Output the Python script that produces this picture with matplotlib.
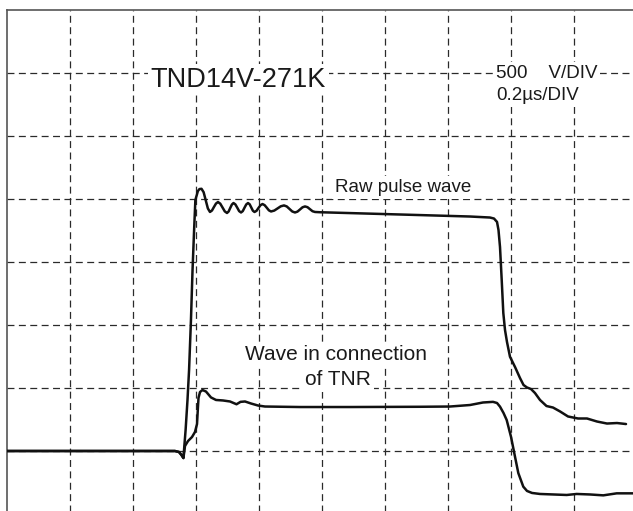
import matplotlib
matplotlib.use("Agg")
import matplotlib.pyplot as plt

plt.rcParams['lines.scale_dashes'] = False
plt.rcParams['font.family'] = ['Liberation Sans', 'DejaVu Sans']

# Time in microseconds (0.2 us/div), voltage in volts (500 V/div)
raw_t = [0.0, 0.533, 0.546, 0.554, 0.560, 0.567, 0.573, 0.578, 0.584, 0.589,
         0.594, 0.598, 0.606, 0.611, 0.6175, 0.6242, 0.6310, 0.6377, 0.6444,
         0.6508, 0.6571, 0.6635, 0.6698, 0.6770, 0.6841, 0.6913, 0.6984,
         0.7036, 0.7087, 0.7139, 0.7190, 0.7250, 0.7310, 0.7369, 0.7429,
         0.7485, 0.7540, 0.7596, 0.7651, 0.7703, 0.7754, 0.7806, 0.7857,
         0.7921, 0.7984, 0.8048, 0.8111, 0.8179, 0.8246, 0.8314, 0.8381,
         0.8484, 0.8588, 0.8691, 0.8794, 0.8881, 0.8969, 0.9056, 0.9143,
         0.9222, 0.9302, 0.9381, 0.9460, 0.9540, 0.9619, 0.9699, 0.9778,
         0.9937, 1.2476, 1.4698, 1.5333, 1.5460, 1.5556, 1.5603, 1.5651,
         1.5705, 1.5756, 1.5810, 1.5873, 1.5968, 1.6127, 1.6286, 1.6397,
         1.6508, 1.6635, 1.6762, 1.6921, 1.7127, 1.7333, 1.7556, 1.7810,
         1.8127, 1.8413, 1.8730, 1.9048, 1.9365, 1.9651]
raw_v = [0, 0, -8, -32, -56, 167, 405, 643, 1040, 1437,
         1754, 1992, 2063, 2079, 2081, 2054, 1989, 1925, 1897,
         1909, 1937, 1964, 1976, 1963, 1933, 1902, 1889,
         1901, 1929, 1956, 1968, 1957, 1931, 1904, 1893,
         1904, 1931, 1957, 1968, 1958, 1933, 1907, 1897,
         1906, 1929, 1951, 1960, 1951, 1931, 1910, 1901,
         1908, 1925, 1942, 1949, 1941, 1921, 1901, 1893,
         1900, 1917, 1934, 1941, 1935, 1919, 1903, 1897,
         1895, 1877, 1861, 1853, 1845, 1818, 1754, 1619,
         1357, 1095, 960, 865, 748, 667, 579, 524,
         504, 492, 460, 405, 357, 345, 314, 274,
         258, 258, 234, 218, 222, 214]

tnr_t = [0.0, 0.533, 0.546, 0.554, 0.560, 0.5651, 0.5746, 0.5873, 0.5968,
         0.6032, 0.6057, 0.6079, 0.6127, 0.6206, 0.6317, 0.6476, 0.6635,
         0.6857, 0.7079, 0.7286, 0.7413, 0.7556, 0.7746, 0.7968, 0.8190,
         0.9302, 1.0889, 1.3111, 1.4063, 1.4698, 1.5111, 1.5429, 1.5556,
         1.5651, 1.5762, 1.5863, 1.6000, 1.6127, 1.6232, 1.6390, 1.6508,
         1.6667, 1.6921, 1.7768, 1.8086, 1.8508, 1.8930, 1.9355, 1.9873]
tnr_v = [0, 0, -8, -32, -56, 40, 79, 111, 151,
         214, 325, 421, 468, 484, 472, 425, 405,
         401, 393, 371, 390, 393, 377, 361, 353,
         349, 349, 351, 353, 365, 385, 390, 381,
         352, 302, 246, 113, -45, -175, -283, -317,
         -333, -341, -349, -341, -345, -352, -336, -336]

x_grid = [0.2, 0.4, 0.6, 0.8, 1.0, 1.2, 1.4, 1.6, 1.8]
y_grid = [0, 500, 1000, 1500, 2000, 2500, 3000]

W, H = 633, 511
fig = plt.figure(figsize=(W / 100, H / 100), dpi=100)
ax = fig.add_axes([7 / W, -3 / H, 630 / W, 504 / H])
ax.set_xlim(0, 2.0)
ax.set_ylim(-500, 3500)

dash = (0, (5.0, 3.2))
for xg in x_grid:
    ax.axvline(xg, color='#2a2a2a', lw=0.9, linestyle=dash, zorder=1)
for yg in y_grid:
    ax.axhline(yg, color='#2a2a2a', lw=0.9, linestyle=dash, zorder=1)

ax.plot(raw_t, raw_v, color='#111111', lw=1.8, solid_joinstyle='round',
        solid_capstyle='round', zorder=3)
ax.plot(tnr_t, tnr_v, color='#111111', lw=1.8, solid_joinstyle='round',
        solid_capstyle='round', zorder=3)

ax.set_xticks([])
ax.set_yticks([])
for s in ['right', 'bottom']:
    ax.spines[s].set_visible(False)
for s in ['left', 'top']:
    ax.spines[s].set_color('#555555')
    ax.spines[s].set_linewidth(1.2)

bb = dict(facecolor='white', edgecolor='none', pad=2)
ax.text(0.456, 2891, 'TND14V-271K', fontsize=19.5, ha='left', va='baseline',
        color='#1a1a1a', bbox=bb, zorder=4)
ax.text(1.5524, 2958, '500    V/DIV', fontsize=13.5, ha='left', va='baseline',
        color='#1a1a1a', bbox=bb, zorder=4)
ax.text(1.5524, 2786, '0.2µs/DIV', fontsize=13.5, ha='left', va='baseline',
        color='#1a1a1a', bbox=bb, zorder=4)
ax.text(1.0413, 2058, 'Raw pulse wave', fontsize=13.5, ha='left',
        va='baseline', color='#1a1a1a', bbox=bb, zorder=4)
ax.text(1.0438, 722, 'Wave in connection', fontsize=15, ha='center',
        va='baseline', color='#1a1a1a', bbox=bb, zorder=4)
ax.text(1.052, 524, 'of TNR', fontsize=15, ha='center', va='baseline',
        color='#1a1a1a', bbox=bb, zorder=4)

fig.savefig('out.png', dpi=100, facecolor='white')
